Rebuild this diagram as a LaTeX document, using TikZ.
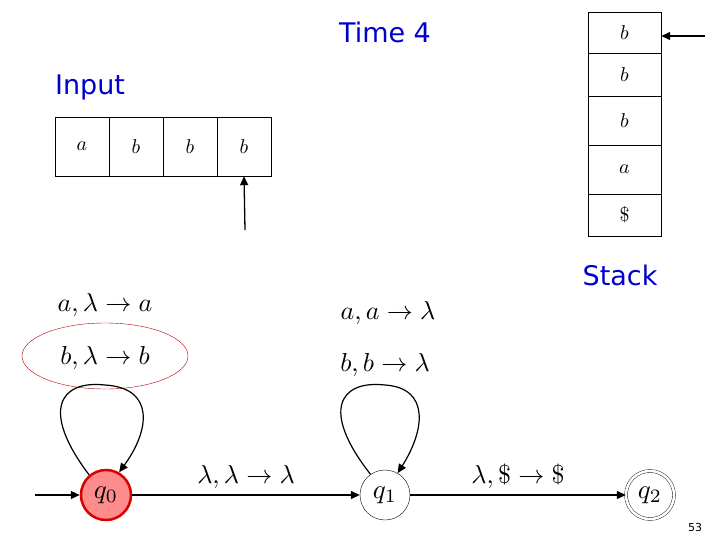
\documentclass[tikz,border=0pt]{standalone}
\usepackage{fontspec}
\usepackage{graphicx}
\newfontfamily\lab{DejaVu Sans}
\usetikzlibrary{arrows.meta}
\newcommand\Mth[2]{\scalebox{#1}{$#2$}}
\begin{document}
\begin{tikzpicture}[x=1pt,y=-1pt,
  cell/.style={draw,thin,minimum width=54pt,minimum height=59pt,inner sep=0pt},
  scell/.style={draw,thin,minimum width=73pt,inner sep=0pt},
  blue/.style={text=blue!80!black,font=\lab\fontsize{27}{27}\selectfont},
  lbl/.style={inner sep=0pt},
  st/.style={circle,draw,minimum size=50pt,inner sep=0pt},
  arr/.style={-{Triangle[length=9pt,width=8pt]},line width=1.3pt}]
\useasboundingbox (0,0) rectangle (720,540);
\node[blue] (time) at (385,32) {Time 4};
\node[blue] (inp) at (90,87) {Input};
\node[blue] (stk) at (620,275) {Stack};
\node[cell] (c1) at (82,146.5) {\Mth{2}{a}};
\node[cell] (c2) at (136,146.5) {\Mth{2}{b}};
\node[cell] (c3) at (190,146.5) {\Mth{2}{b}};
\node[cell] (c4) at (244,146.5) {\Mth{2}{b}};
\coordinate (hp) at (245,230);
\draw[arr] (hp) -- (c4.south);
\node[scell,minimum height=41pt] (s1) at (624.5,32.5) {\Mth{2}{b}};
\node[scell,minimum height=43pt] (s2) at (624.5,74.5) {\Mth{2}{b}};
\node[scell,minimum height=49pt] (s3) at (624.5,120.5) {\Mth{2}{b}};
\node[scell,minimum height=49pt] (s4) at (624.5,169.5) {\Mth{2}{a}};
\node[scell,minimum height=42pt] (s5) at (624.5,215) {\Mth{2}{\$}};
\coordinate (sp) at (705,36);
\draw[arr] (sp) -- (s1.east |- sp);
\node[lbl] (l1) at (105,305) {\Mth{2.6}{a,\lambda\rightarrow a}};
\node[lbl] (l2) at (105,358) {\Mth{2.6}{b,\lambda\rightarrow b}};
\draw[red!70!black,thin] (105,356) ellipse [x radius=83, y radius=33];
\node[lbl] (l3) at (388,313) {\Mth{2.6}{a,a\rightarrow\lambda}};
\node[lbl] (l4) at (385,365) {\Mth{2.6}{b,b\rightarrow\lambda}};
\node[st,fill=red!45,draw=red!85!black,line width=2.5pt] (q0) at (106,495) {\Mth{2.7}{q_0}};
\node[st] (q1) at (385,495) {\Mth{2.7}{q_1}};
\node[st,double,double distance=2.5pt,minimum size=48pt] (q2) at (650,495) {\Mth{2.7}{q_2}};
\coordinate (start) at (35,495);
\draw[arr] (start) -- (q0);
\draw[arr] (q0) -- (q1) node[lbl,midway,above=6pt] {\Mth{2.6}{\lambda,\lambda\rightarrow\lambda}};
\draw[arr] (q1) -- (q2) node[lbl,midway,above=6pt] {\Mth{2.6}{\lambda,\$\rightarrow\$}};
\draw[arr,line width=1.2pt] (q0.130) .. controls (40,410) and (60,380) .. (105,385) .. controls (155,388) and (150,430) .. (q0.60);
\draw[arr,line width=1.2pt] (q1.125) .. controls (320,410) and (340,380) .. (385,385) .. controls (430,388) and (425,430) .. (q1.60);
\node[font=\lab\fontsize{11}{11}\selectfont] (pg) at (695,527) {53};
\end{tikzpicture}
\end{document}
